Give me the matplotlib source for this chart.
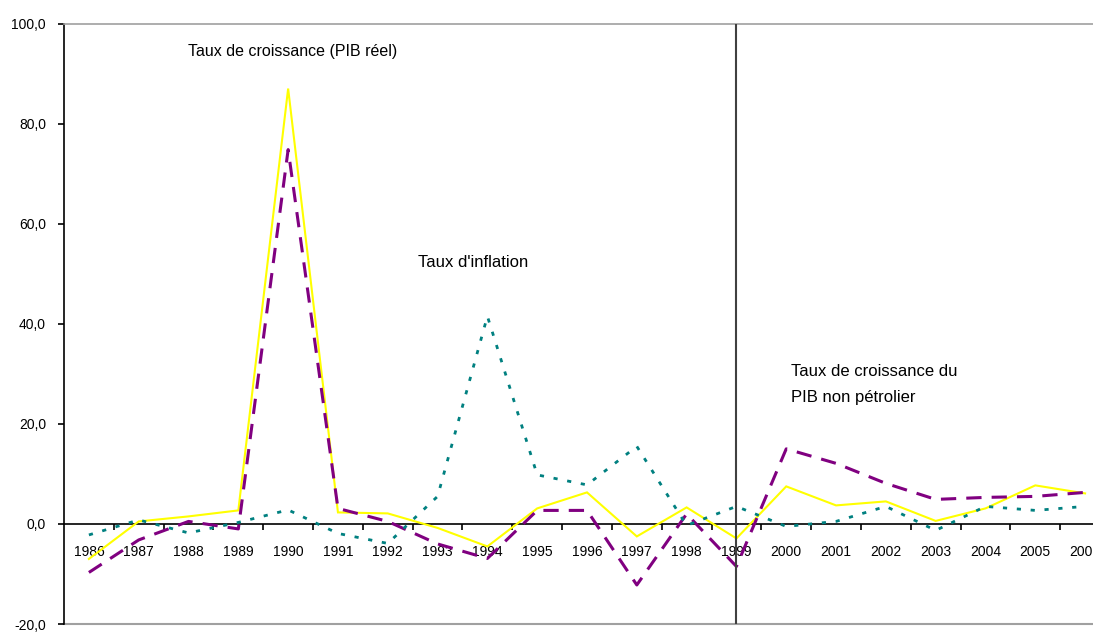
import matplotlib
matplotlib.use("Agg")
import matplotlib.pyplot as plt
import numpy as np
from matplotlib.ticker import FixedLocator, FuncFormatter

plt.rcParams['font.family'] = ['Liberation Sans', 'DejaVu Sans']

years = list(range(1986, 2007))
pib_reel = [-7.0, 0.5, 1.5, 2.7, 87.0, 2.3, 2.1, -0.8, -4.5, 3.1, 6.3, -2.5,
            3.3, -2.9, 7.5, 3.7, 4.5, 0.6, 3.1, 7.7, 6.1]
pib_non_petrolier = [-9.7, -3.2, 0.5, -1.0, 74.8, 3.1, 0.5, -4.0, -6.9, 2.7, 2.7,
                     -12.2, 2.0, -8.5, 15.0, 12.1, 8.1, 4.9, 5.3, 5.5, 6.3]
inflation = [-2.2, 0.8, -1.8, 0.3, 2.8, -1.9, -3.9, 5.5, 41.5, 9.8, 7.8, 15.5,
             -0.3, 3.5, -0.5, 0.5, 3.5, -1.3, 3.5, 2.7, 3.5]
y_ticks = [-20, 0, 20, 40, 60, 80, 100]
split_year = 1999

W, H = 1093, 632
fig = plt.figure(figsize=(W / 100, H / 100), dpi=100)
left_px, right_px, top_px, bottom_px = 64, 1110, 23.5, 624
ax = fig.add_axes([left_px / W, 1 - bottom_px / H,
                   (right_px - left_px) / W, (bottom_px - top_px) / H])

ax.plot(years, pib_reel, color='#FFFF00', lw=1.5, solid_joinstyle='miter', zorder=3)
ax.plot(years, pib_non_petrolier, color='#800080', lw=2.2,
        dashes=(5, 3.3), zorder=4)
ax.plot(years, inflation, color='#008080', lw=2.0, dashes=(1.5, 3.5), zorder=5)

ax.axvline(split_year, color='#404040', lw=1.5, zorder=6)

ax.set_xlim(years[0] - 0.5, years[-1] + 0.5)
ax.set_ylim(-20, 100)

# spines
ax.spines['right'].set_visible(False)
ax.spines['top'].set_color('#a0a0a0')
ax.spines['top'].set_linewidth(1.2)
ax.spines['left'].set_color('black')
ax.spines['left'].set_linewidth(1.2)
ax.spines['bottom'].set_position(('data', 0))
ax.spines['bottom'].set_color('black')
ax.spines['bottom'].set_linewidth(1.2)
ax.axhline(-20, color='#a0a0a0', lw=1.5, clip_on=False, zorder=1)

ax.yaxis.set_major_locator(FixedLocator(y_ticks))
ax.yaxis.set_major_formatter(FuncFormatter(lambda v, p: f"{v:.1f}".replace('.', ',')))
ax.tick_params(axis='y', direction='out', length=4, width=1.2, labelsize=10, pad=9)

ax.set_xticks(years)
ax.set_xticklabels([str(y) for y in years])
ax.set_xticks([y + 0.5 for y in years[:-1]], minor=True)
ax.tick_params(axis='x', which='major', length=0, labelsize=10, pad=15)
ax.tick_params(axis='x', which='minor', direction='out', length=4, width=1.2)

ax.text(1987.99, 94.4, "Taux de croissance (PIB réel)", fontsize=11.5,
        va='center', ha='left')
ax.text(1992.61, 52.3, "Taux d'inflation", fontsize=12, va='center', ha='left')
ax.text(2000.1, 30.5, "Taux de croissance du", fontsize=12, va='center', ha='left')
ax.text(2000.1, 25.3, "PIB non pétrolier", fontsize=12, va='center', ha='left')

fig.savefig('out.png', dpi=100)
